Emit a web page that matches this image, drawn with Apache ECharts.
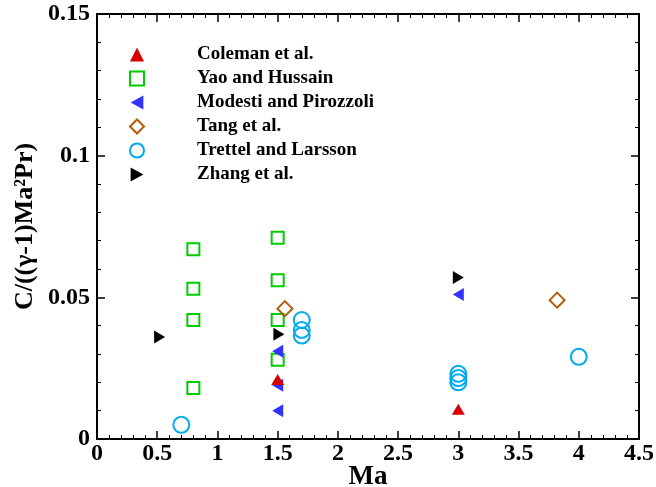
<!DOCTYPE html>
<html>
<head>
<meta charset="utf-8">
<script src="https://cdn.jsdelivr.net/npm/echarts@6/dist/echarts.min.js"></script>
<style>html,body{margin:0;padding:0;background:#fff}#c{width:656px;height:487px}</style>
</head>
<body>
<div id="c"></div>
<script>
// Data (Ma, C/((γ-1)Ma²Pr))
const coleman = [[1.5, 0.021], [3.0, 0.0105]];
const yaoHussain = [[0.8, 0.067], [0.8, 0.053], [0.8, 0.042], [0.8, 0.018],
                    [1.5, 0.071], [1.5, 0.056], [1.5, 0.042], [1.5, 0.028]];
const modesti = [[1.5, 0.031], [1.5, 0.019], [1.5, 0.010], [3.0, 0.051]];
const tang = [[1.56, 0.046], [3.82, 0.049]];
const trettel = [[0.7, 0.005], [1.7, 0.042], [1.7, 0.0385], [1.7, 0.0365],
                 [3.0, 0.023], [3.0, 0.0215], [3.0, 0.020], [4.0, 0.029]];
const zhang = [[0.52, 0.036], [1.51, 0.037], [3.0, 0.057]];
const seriesNames = ['Coleman et al.', 'Yao and Hussain', 'Modesti and Pirozzoli',
                     'Tang et al.', 'Trettel and Larsson', 'Zhang et al.'];

const FONT = '"Liberation Serif", "Times New Roman", serif';
const TRI_L = 'path://M10,0 L0,5.5 L10,11 Z';
const TRI_R = 'path://M0,0 L10,5.5 L0,11 Z';

const chart = echarts.init(document.getElementById('c'), null, {renderer: 'canvas'});

function filled(color) { return {color: color, borderWidth: 0, opacity: 1}; }
function hollow(color) { return {color: 'rgba(255,255,255,0)', borderColor: color, borderWidth: 2, opacity: 1}; }

const axisCommon = {
  axisLine: {show: true, onZero: false, lineStyle: {color: '#000', width: 2}},
  axisTick: {show: true, inside: true, length: 8, lineStyle: {color: '#000', width: 1.5}},
  minorTick: {show: true, splitNumber: 5, length: 4, lineStyle: {color: '#000', width: 1}},
  splitLine: {show: false}
};

chart.setOption({
  animation: false,
  backgroundColor: '#fff',
  grid: {left: 97, right: 17, top: 14, bottom: 48, show: false, containLabel: false, outerBoundsMode: 'none'},
  legend: {
    orient: 'vertical',
    left: 124,
    top: 40,
    itemWidth: 14,
    itemHeight: 14,
    itemGap: 5,
    data: seriesNames,
    textStyle: {fontFamily: FONT, fontWeight: 'bold', fontSize: 19, color: '#000', padding: [0, 0, 0, 48]}
  },
  xAxis: [
    Object.assign({}, axisCommon, {
      type: 'value', min: 0, max: 4.5, interval: 0.5, position: 'bottom',
      name: 'Ma', nameLocation: 'middle', nameGap: 25, nameMoveOverlap: false,
      nameTextStyle: {fontFamily: FONT, fontWeight: 'bold', fontSize: 27, color: '#000'},
      axisLabel: {fontFamily: FONT, fontWeight: 'bold', fontSize: 24, color: '#000', margin: 3,
                  formatter: v => String(+v.toFixed(2))}
    }),
    Object.assign({}, axisCommon, {
      type: 'value', min: 0, max: 4.5, interval: 0.5, position: 'top',
      axisLabel: {show: false}
    })
  ],
  yAxis: [
    Object.assign({}, axisCommon, {
      type: 'value', min: 0, max: 0.15, interval: 0.05, position: 'left',
      name: 'C/((γ-1)Ma²Pr)', nameLocation: 'middle', nameGap: 59, nameRotate: 90, nameMoveOverlap: false,
      nameTextStyle: {fontFamily: FONT, fontWeight: 'bold', fontSize: 26, color: '#000'},
      axisLabel: {fontFamily: FONT, fontWeight: 'bold', fontSize: 24, color: '#000', margin: 7,
                  formatter: v => String(+v.toFixed(2))}
    }),
    Object.assign({}, axisCommon, {
      type: 'value', min: 0, max: 0.15, interval: 0.05, position: 'right',
      axisLabel: {show: false}
    })
  ],
  series: [
    {name: seriesNames[0], type: 'scatter', data: coleman, symbol: 'triangle', symbolSize: [13, 11], itemStyle: filled('#d90000'), z: 5},
    {name: seriesNames[1], type: 'scatter', data: yaoHussain, symbol: 'rect', symbolSize: 12, itemStyle: hollow('#00cc00')},
    {name: seriesNames[2], type: 'scatter', data: modesti, symbol: TRI_L, symbolSize: [11, 13], itemStyle: filled('#3333ff'), z: 4},
    {name: seriesNames[3], type: 'scatter', data: tang, symbol: 'diamond', symbolSize: 15, itemStyle: hollow('#b35a0a')},
    {name: seriesNames[4], type: 'scatter', data: trettel, symbol: 'circle', symbolSize: 16, itemStyle: hollow('#00aaee')},
    {name: seriesNames[5], type: 'scatter', data: zhang, symbol: TRI_R, symbolSize: [11, 13], itemStyle: filled('#000000')}
  ]
});
</script>
</body>
</html>
